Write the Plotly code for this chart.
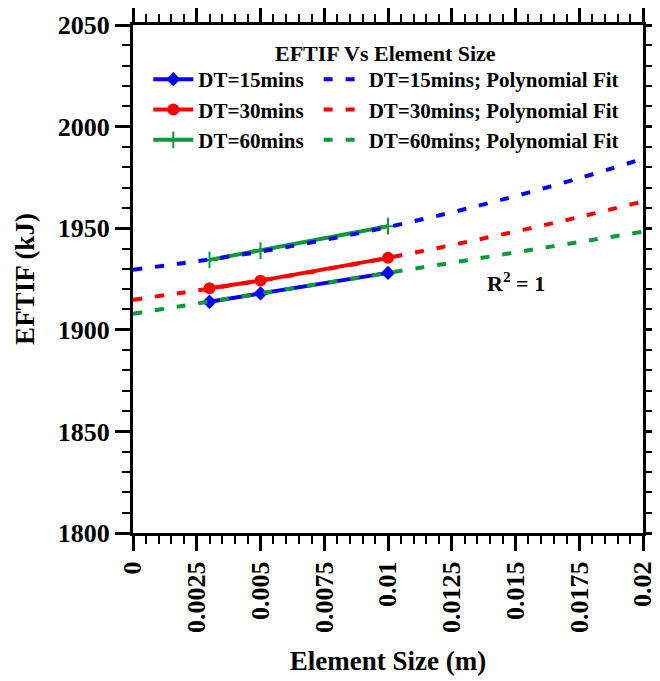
import plotly.graph_objects as go

# Data
element_size = [0.003, 0.005, 0.01]
eftif_dt15 = [1913.8, 1917.9, 1928.0]
eftif_dt30 = [1920.4, 1924.2, 1935.4]
eftif_dt60 = [1934.4, 1939.0, 1951.0]

fit_x = [0, 0.0025, 0.005, 0.0075, 0.01, 0.0125, 0.015, 0.0175, 0.02]
fit_dt15 = [1929.6, 1933.7, 1938.5, 1944.2, 1950.6, 1957.8, 1965.8, 1974.6, 1984.2]
fit_dt30 = [1914.8, 1919.3, 1924.2, 1929.6, 1935.4, 1941.7, 1948.4, 1955.5, 1963.2]
fit_dt60 = [1907.9, 1912.9, 1917.9, 1922.9, 1928.0, 1933.0, 1938.1, 1943.2, 1948.3]

x_ticks = [0, 0.0025, 0.005, 0.0075, 0.01, 0.0125, 0.015, 0.0175, 0.02]
x_tick_labels = ["0", "0.0025", "0.005", "0.0075", "0.01", "0.0125", "0.015", "0.0175", "0.02"]
y_ticks = [1800, 1850, 1900, 1950, 2000, 2050]

BLUE = "#0000FF"
RED = "#FF0000"
GREEN = "#0A9A3A"
FONT = "Liberation Serif"

fig = go.Figure()

fig.add_trace(go.Scatter(x=element_size, y=eftif_dt15, mode="lines+markers", name="DT=15mins",
                         line=dict(color=BLUE, width=4),
                         marker=dict(symbol="diamond", size=11, color=BLUE), legend="legend"))
fig.add_trace(go.Scatter(x=element_size, y=eftif_dt30, mode="lines+markers", name="DT=30mins",
                         line=dict(color=RED, width=4),
                         marker=dict(symbol="circle", size=12, color=RED), legend="legend"))
fig.add_trace(go.Scatter(x=element_size, y=eftif_dt60, mode="lines+markers", name="DT=60mins",
                         line=dict(color=GREEN, width=4),
                         marker=dict(symbol="cross-thin", size=12, color=GREEN,
                                     line=dict(color=GREEN, width=2)), legend="legend"))

fig.add_trace(go.Scatter(x=fit_x, y=fit_dt15, mode="lines", name="DT=15mins; Polynomial Fit",
                         line=dict(color=BLUE, width=4, dash="9px,13px", shape="spline"), legend="legend2"))
fig.add_trace(go.Scatter(x=fit_x, y=fit_dt30, mode="lines", name="DT=30mins; Polynomial Fit",
                         line=dict(color=RED, width=4, dash="9px,13px", shape="spline"), legend="legend2"))
fig.add_trace(go.Scatter(x=fit_x, y=fit_dt60, mode="lines", name="DT=60mins; Polynomial Fit",
                         line=dict(color=GREEN, width=4, dash="9px,13px", shape="spline"), legend="legend2"))

axis_common = dict(showline=True, linecolor="black", linewidth=3, mirror="allticks",
                   ticks="outside", tickcolor="black", tickwidth=3, ticklen=15,
                   showgrid=False, zeroline=False, automargin=False,
                   tickfont=dict(family=FONT, size=26, color="black", weight="bold"))

fig.update_xaxes(range=[0, 0.02], tickvals=x_ticks, ticktext=x_tick_labels, tickangle=-90,
                 minor=dict(dtick=0.0005, ticks="outside", ticklen=8, tickwidth=2, tickcolor="black"),
                 title=dict(text="Element Size (m)", font=dict(family=FONT, size=27, color="black", weight="bold"),
                            standoff=20),
                 **axis_common)
fig.update_yaxes(range=[1800, 2050], tickvals=y_ticks,
                 minor=dict(dtick=10, ticks="outside", ticklen=8, tickwidth=2, tickcolor="black"),
                 title=dict(text="EFTIF (kJ)", font=dict(family=FONT, size=27, color="black", weight="bold"),
                            standoff=16),
                 **axis_common)

legend_font = dict(family=FONT, size=21, color="black", weight="bold")
fig.update_layout(
    width=660, height=681,
    margin=dict(l=125, r=25, t=17, b=156),
    paper_bgcolor="white", plot_bgcolor="white",
    font=dict(family=FONT, color="black", weight="bold"),
    legend=dict(x=0.03, y=0.933, xanchor="left", yanchor="top", bgcolor="rgba(0,0,0,0)",
                font=legend_font, tracegroupgap=0, itemwidth=40),
    legend2=dict(x=0.364, y=0.933, xanchor="left", yanchor="top", bgcolor="rgba(0,0,0,0)",
                 font=legend_font, tracegroupgap=0, itemwidth=40),
    annotations=[
        dict(text="EFTIF Vs Element Size", x=0.496, y=0.9725, xref="paper", yref="paper",
             showarrow=False, font=dict(family=FONT, size=22, color="black", weight="bold")),
        dict(text="R<sup>2</sup> = 1", x=0.015, y=1923.5, xref="x", yref="y",
             showarrow=False, font=dict(family=FONT, size=22, color="black", weight="bold")),
    ],
)

fig.write_html("out.html")
